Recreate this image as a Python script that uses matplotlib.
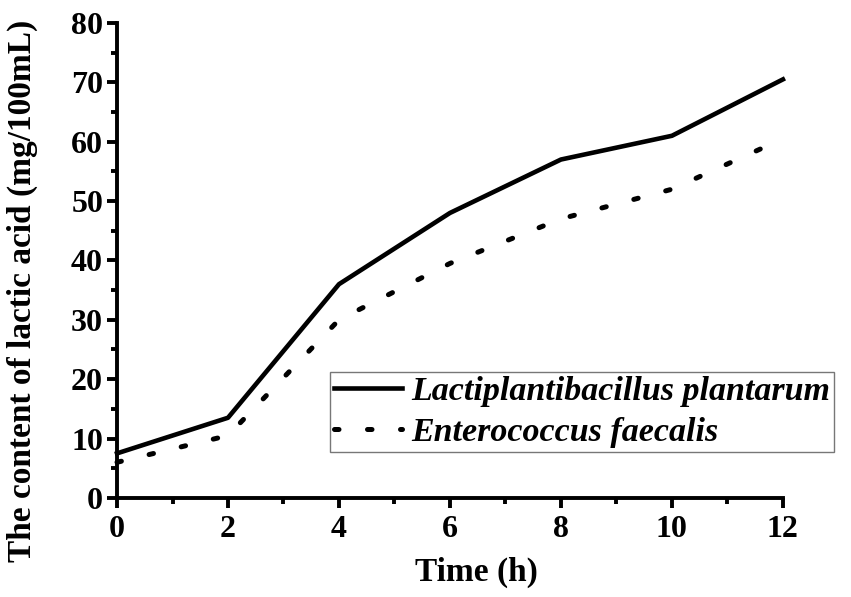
import matplotlib
matplotlib.use('Agg')
import matplotlib.pyplot as plt
from matplotlib.ticker import MultipleLocator

plt.rcParams['font.family'] = ['Liberation Serif', 'DejaVu Serif']
plt.rcParams['font.weight'] = 'bold'

time_h = [0, 2, 4, 6, 8, 10, 12]
plantarum = [7.5, 13.5, 36.0, 48.0, 57.0, 61.0, 70.5]
faecalis = [6.0, 10.5, 30.0, 39.5, 47.0, 52.0, 60.5]

fig = plt.figure(figsize=(8.51, 5.97), dpi=100)
ax = fig.add_axes([0.1375, 0.166, 0.7825, 0.7955])

ax.plot(time_h, plantarum, color='black', linewidth=3.3,
        label='Lactiplantibacillus plantarum', clip_on=False)
ax.plot(time_h, faecalis, color='black', linewidth=3.6, dashes=(0.9, 5.7),
        dash_capstyle='round', label='Enterococcus faecalis', clip_on=False)

ax.set_xlim(0, 12)
ax.set_ylim(0, 80)
ax.xaxis.set_major_locator(MultipleLocator(2))
ax.xaxis.set_minor_locator(MultipleLocator(1))
ax.yaxis.set_major_locator(MultipleLocator(10))
ax.yaxis.set_minor_locator(MultipleLocator(5))

for s in ['top', 'right']:
    ax.spines[s].set_visible(False)
for s in ['left', 'bottom']:
    ax.spines[s].set_linewidth(2.8)

ax.tick_params(which='major', direction='out', length=7, width=2.8, labelsize=23)
ax.tick_params(axis='y', which='major', pad=3)
ax.tick_params(axis='x', which='major', pad=5)
ax.tick_params(which='minor', direction='out', length=4.5, width=2.8)
for lab in ax.get_xticklabels() + ax.get_yticklabels():
    lab.set_fontweight('bold')

ax.set_xlabel('Time (h)', fontsize=24, fontweight='bold')
ax.set_ylabel('The content of lactic acid (mg/100mL)', fontsize=24, fontweight='bold')
ax.xaxis.set_label_coords(0.54, -0.125)
ax.yaxis.set_label_coords(-0.118, 0.435)

leg = fig.legend(loc='upper left', bbox_to_anchor=(0.388, 0.377), frameon=True,
                 fancybox=False, edgecolor='#555555', handlelength=2.0,
                 handletextpad=0.25, borderpad=0.12, borderaxespad=0,
                 labelspacing=0.28,
                 prop={'family': 'Liberation Serif', 'style': 'italic',
                       'weight': 'bold', 'size': 24.5})
leg.get_frame().set_linewidth(1.0)

plt.savefig('out.png', dpi=100)
